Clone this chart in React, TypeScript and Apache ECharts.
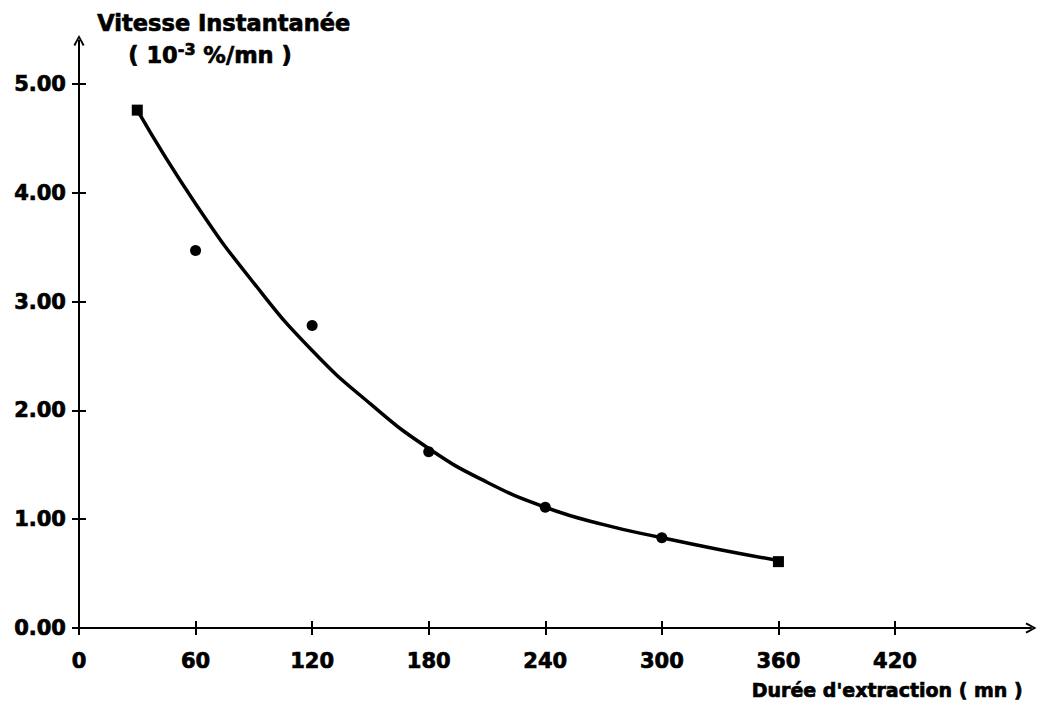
import React, { useEffect, useRef } from "react";
import * as echarts from "echarts";

// Measured points (Durée d'extraction in mn, vitesse instantanée in 10^-3 %/mn)
const pointX = [30, 60, 120, 180, 240, 300, 360];
const pointY = [4.76, 3.47, 2.78, 1.62, 1.11, 0.83, 0.61];

// Fitted curve
const curveX = [30, 60, 90, 120, 150, 180, 210, 240, 270, 300, 330, 360];
const curveY = [4.76, 3.9, 3.17, 2.55, 2.06, 1.65, 1.34, 1.11, 0.95, 0.83, 0.72, 0.62];

const xTicks = [0, 60, 120, 180, 240, 300, 360, 420];
const yTicks = [0, 1, 2, 3, 4, 5];

const FONT = "'DejaVu Sans', 'Liberation Sans', sans-serif";
const ARROW = "path://M0,9 L5,0 L10,9 L8.4,10 L5,3.2 L1.6,10 Z";

export default function App() {
  const ref = useRef<HTMLDivElement>(null);

  useEffect(() => {
    if (!ref.current) return;
    const chart = echarts.init(ref.current, undefined, { renderer: "svg" });

    const xBase = {
      type: "value" as const,
      min: 0,
      max: 490,
      interval: 60,
      splitLine: { show: false },
      gridIndex: 0,
      position: "bottom" as const,
      offset: 0,
    };
    const yBase = {
      type: "value" as const,
      min: 0,
      max: 5.4,
      interval: 1,
      splitLine: { show: false },
      gridIndex: 0,
      position: "left" as const,
      offset: 0,
    };
    const heavy = { textBorderColor: "#000", textBorderWidth: 0.7 };
    const heavyRich = { stroke: "#000", lineWidth: 0.7 };

    chart.setOption({
      animation: false,
      backgroundColor: "#ffffff",
      grid: { left: 79, top: 40.5, right: 10, bottom: 79, containLabel: false },
      xAxis: [
        {
          ...xBase,
          axisLine: {
            show: true,
            symbol: ["none", ARROW],
            symbolSize: [11, 14],
            lineStyle: { color: "#000", width: 2 },
          },
          axisTick: {
            show: true,
            inside: false,
            length: 7,
            customValues: xTicks,
            lineStyle: { color: "#000", width: 2 },
          },
          axisLabel: {
            show: true,
            customValues: xTicks,
            margin: 22,
            color: "#000",
            fontFamily: FONT,
            fontWeight: "bold",
            fontSize: 21,
            ...heavy,
            formatter: (v: number) => (xTicks.indexOf(v) >= 0 ? String(v) : ""),
          },
        },
        {
          ...xBase,
          axisLine: { show: false },
          axisTick: {
            show: true,
            inside: true,
            length: 7,
            customValues: xTicks,
            lineStyle: { color: "#000", width: 2 },
          },
          axisLabel: { show: false },
        },
      ],
      yAxis: [
        {
          ...yBase,
          axisLine: {
            show: true,
            symbol: ["none", ARROW],
            symbolSize: [11, 14],
            lineStyle: { color: "#000", width: 2 },
          },
          axisTick: {
            show: true,
            inside: false,
            length: 7,
            customValues: yTicks,
            lineStyle: { color: "#000", width: 2 },
          },
          axisLabel: {
            show: true,
            customValues: yTicks,
            margin: 13,
            color: "#000",
            fontFamily: FONT,
            fontWeight: "bold",
            fontSize: 21,
            ...heavy,
            formatter: (v: number) => (yTicks.indexOf(v) >= 0 ? v.toFixed(2) : ""),
          },
        },
        {
          ...yBase,
          axisLine: { show: false },
          axisTick: {
            show: true,
            inside: true,
            length: 7,
            customValues: yTicks,
            lineStyle: { color: "#000", width: 2 },
          },
          axisLabel: { show: false },
        },
      ],
      series: [
        {
          type: "line",
          xAxisIndex: 0,
          yAxisIndex: 0,
          smooth: true,
          showSymbol: false,
          data: curveX.map((x, i) => [x, curveY[i]]),
          lineStyle: { color: "#000", width: 3.5 },
          z: 3,
        },
        {
          type: "scatter",
          xAxisIndex: 0,
          yAxisIndex: 0,
          data: pointX.map((x, i) => ({
            value: [x, pointY[i]],
            symbol: i === 0 || i === pointX.length - 1 ? "rect" : "circle",
          })),
          symbolSize: 11,
          itemStyle: { color: "#000", opacity: 1 },
          z: 4,
        },
      ],
      graphic: [
        {
          type: "text",
          left: 97,
          top: 11,
          style: {
            text: "Vitesse Instantanée",
            fill: "#000",
            stroke: "#000",
            lineWidth: 0.7,
            font: `bold 22.5px ${FONT}`,
          },
        },
        {
          type: "text",
          left: 128,
          top: 41,
          style: {
            text: "{a|( 10}{s|-3}{a| %/mn )}",
            fill: "#000",
            rich: {
              a: {
                fontFamily: FONT,
                fontWeight: "bold",
                fontSize: 22.5,
                lineHeight: 32,
                fill: "#000",
                ...heavyRich,
              },
              s: {
                fontFamily: FONT,
                fontWeight: "bold",
                fontSize: 16,
                lineHeight: 32,
                padding: [0, 0, 12, 0],
                fill: "#000",
                ...heavyRich,
              },
            },
          },
        },
        {
          type: "text",
          right: 18,
          top: 680,
          style: {
            text: "Durée d'extraction ( mn )",
            fill: "#000",
            stroke: "#000",
            lineWidth: 0.7,
            font: `bold 19px ${FONT}`,
          },
        },
      ],
    });

    return () => chart.dispose();
  }, []);

  return (
    <div
      ref={ref}
      style={{ position: "absolute", left: 0, top: 0, width: 1041, height: 707 }}
    />
  );
}
